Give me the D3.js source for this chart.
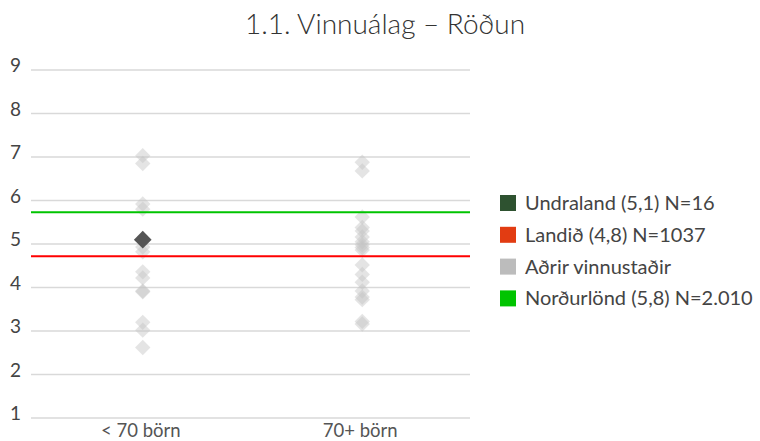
<!DOCTYPE html>
<html>
<head>
<meta charset="utf-8">
<script src="https://cdn.jsdelivr.net/npm/d3@7"></script>
<style>
  body { margin: 0; background: #fff; font-family: Lato, sans-serif; }
  .axis text { fill: #444; }
</style>
</head>
<body>
<div id="vis-container"></div>
<script>
const w = 760
const h = 441

// categories and values
const categories = ["< 70 börn", "70+ börn"];
const yTicks = [1, 2, 3, 4, 5, 6, 7, 8, 9];
const otherSmall = [7.03, 6.85, 5.92, 5.8, 4.93, 4.82, 4.36, 4.22, 3.92, 3.9, 3.2, 3.02, 2.62];
const otherLarge = [6.88, 6.68, 5.62, 5.38, 5.3, 5.16, 5.05, 4.98, 4.92, 4.86, 4.52, 4.3, 4.12, 3.92, 3.78, 3.72, 3.22, 3.16];
const undraland = [{ cat: "< 70 börn", value: 5.1 }];
const landid = 4.72;
const nordurlond = 5.73;
const legendLabels = ["Undraland (5,1) N=16", "Landið (4,8) N=1037", "Aðrir vinnustaðir", "Norðurlönd (5,8) N=2.010"];
const legendColors = ["#2e5230", "#e23c12", "#bcbcbc", "#00c400"];

const svg = d3.select("#vis-container").append("svg")
    .attr("width", w)
    .attr("height", h);

const x = d3.scaleBand().domain(categories).range([31, 470]);
const y = d3.scaleLinear().domain([1, 9]).range([418, 70]);

// title
svg.append("text")
    .attr("x", 385)
    .attr("y", 34)
    .attr("text-anchor", "middle")
    .style("font-size", "28px")
    .style("font-weight", 300)
    .style("fill", "#333")
    .text("1.1. Vinnuálag – Röðun");

// gridlines
svg.append("g")
    .selectAll("line")
    .data(yTicks)
    .enter().append("line")
    .attr("x1", 31)
    .attr("x2", 470)
    .attr("y1", d => y(d))
    .attr("y2", d => y(d))
    .attr("stroke", "#d9d9d9")
    .attr("stroke-width", 1.5);

// y axis labels
const yAxis = d3.axisLeft(y).tickValues(yTicks).tickSize(0).tickPadding(0);
svg.append("g")
    .attr("class", "axis")
    .attr("transform", "translate(21,0)")
    .call(yAxis)
    .call(g => g.select(".domain").remove())
    .selectAll("text")
    .style("font-size", "19px")
    .style("font-family", "Lato, sans-serif")
    .attr("dy", "0.08em");

// x axis labels
const xAxis = d3.axisBottom(x).tickSize(0).tickPadding(0);
svg.append("g")
    .attr("class", "axis")
    .attr("transform", "translate(0,424)")
    .call(xAxis)
    .call(g => g.select(".domain").remove())
    .selectAll("text")
    .style("font-size", "18.5px")
    .style("font-family", "Lato, sans-serif")
    .style("fill", "#555");

// other workplaces
const others = otherSmall.map(v => ({ cat: categories[0], value: v }))
    .concat(otherLarge.map(v => ({ cat: categories[1], value: v })));
const diamond = d3.symbol().type(d3.symbolDiamond2);

svg.append("g")
    .selectAll("path")
    .data(others)
    .enter().append("path")
    .attr("d", diamond.size(150)())
    .attr("transform", d => "translate(" + (x(d.cat) + x.bandwidth() / 2 + 2) + "," + y(d.value) + ")")
    .attr("fill", "#c4c4c4")
    .attr("fill-opacity", 0.45);

// Norðurlönd and Landið lines
svg.append("line")
    .attr("x1", 31).attr("x2", 470)
    .attr("y1", y(nordurlond)).attr("y2", y(nordurlond))
    .attr("stroke", "#00c400").attr("stroke-width", 2);
svg.append("line")
    .attr("x1", 31).attr("x2", 470)
    .attr("y1", y(landid)).attr("y2", y(landid))
    .attr("stroke", "#ff0000").attr("stroke-width", 2);

// Undraland
svg.append("g")
    .selectAll("path")
    .data(undraland)
    .enter().append("path")
    .attr("d", diamond.size(200)())
    .attr("transform", d => "translate(" + (x(d.cat) + x.bandwidth() / 2 + 2) + "," + y(d.value) + ")")
    .attr("fill", "#555");

// legend
const legend = svg.selectAll(".legend")
    .data(legendLabels)
    .enter().append("g")
    .attr("class", "legend")
    .attr("transform", (d, i) => "translate(500," + (203 + i * 31.8) + ")");

legend.append("rect")
    .attr("x", 0)
    .attr("y", -8)
    .attr("width", 16)
    .attr("height", 16)
    .style("fill", (d, i) => legendColors[i]);

legend.append("text")
    .attr("x", 25)
    .attr("y", 0)
    .attr("dy", ".35em")
    .style("font-size", "20px")
    .style("fill", "#444")
    .text(d => d);
</script>
</body>
</html>
